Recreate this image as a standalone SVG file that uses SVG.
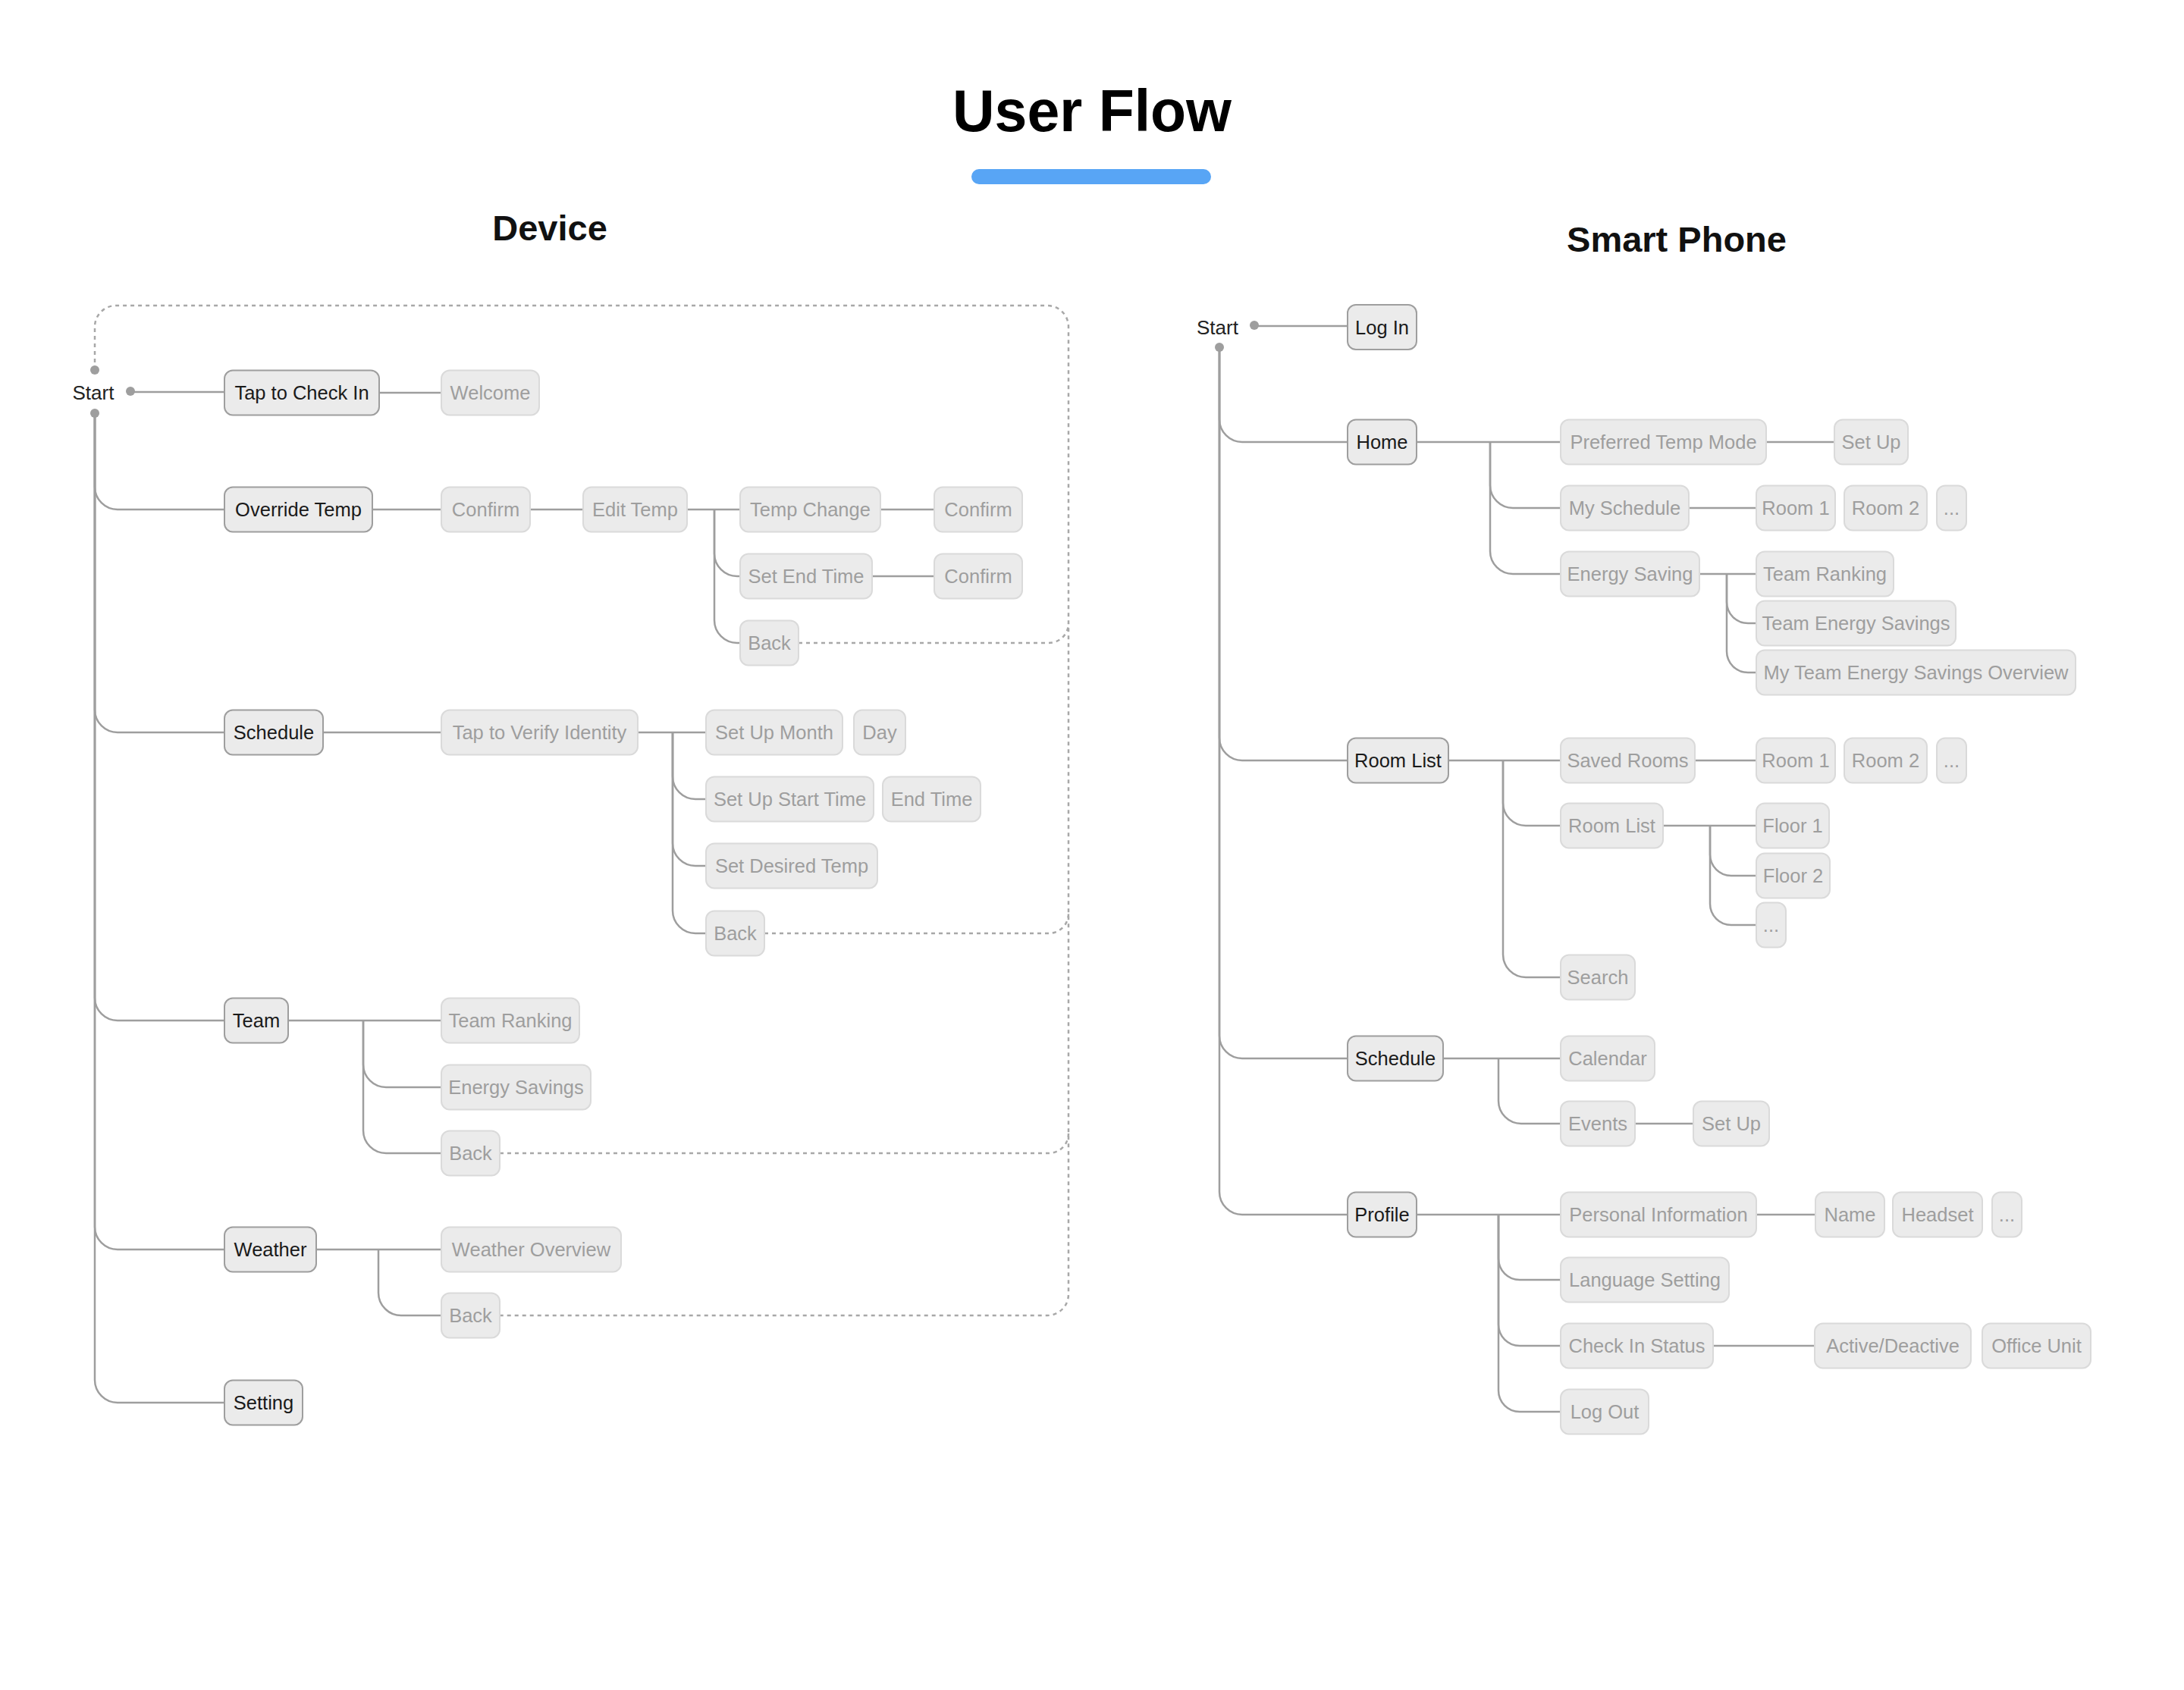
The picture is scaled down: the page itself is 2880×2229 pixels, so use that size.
<svg xmlns="http://www.w3.org/2000/svg" width="2880" height="2229" viewBox="0 0 2880 2229">
<style>
text{font-family:"Liberation Sans",Arial,sans-serif;}
.t{font-size:25.5px;text-anchor:middle;}
.main rect{fill:#ebebeb;stroke:#9e9e9e;stroke-width:2;}
.main text{fill:#1a1a1a;}
.sub rect{fill:#ebebeb;stroke:#dadada;stroke-width:2;}
.sub text{fill:#9e9e9e;}
.ln{fill:none;stroke:#9e9e9e;stroke-width:2.5;}
.dash{fill:none;stroke:#a8a8a8;stroke-width:2.5;stroke-dasharray:5 5;}
.dot{fill:#9e9e9e;}
.h{font-weight:bold;fill:#111;text-anchor:middle;}
.start{font-size:26px;fill:#222;text-anchor:middle;}
</style>
<rect width="2880" height="2229" fill="#ffffff"/>
<g id="title">
<text class="h" x="1440" y="173" style="font-size:77px;fill:#000">User Flow</text>
<rect x="1281" y="223" width="316" height="20" rx="10" fill="#58a5f5"/>
</g>
<text class="h" x="725" y="317" style="font-size:47px">Device</text>
<text class="h" x="2211" y="332" style="font-size:47px">Smart Phone</text>

<g id="connectors">
<path class="dash" d="M125 488 V431 A28 28 0 0 1 153 403 H1381 A28 28 0 0 1 1409 431 V1707 A28 28 0 0 1 1381 1735 H659"/>
<path class="dash" d="M1053 848 H1383 A26 26 0 0 0 1409 822"/>
<path class="dash" d="M1008 1231 H1383 A26 26 0 0 0 1409 1205"/>
<path class="dash" d="M659 1521 H1383 A26 26 0 0 0 1409 1495"/>
<path class="ln" d="M172 517 H296"/>
<path class="ln" d="M500 518 H582"/>
<path class="ln" d="M125 545 V642 A30 30 0 0 0 155 672 H296"/>
<path class="ln" d="M125 545 V936 A30 30 0 0 0 155 966 H296"/>
<path class="ln" d="M125 545 V1316 A30 30 0 0 0 155 1346 H296"/>
<path class="ln" d="M125 545 V1618 A30 30 0 0 0 155 1648 H296"/>
<path class="ln" d="M125 545 V1820 A30 30 0 0 0 155 1850 H296"/>
<path class="ln" d="M491 672 H582"/>
<path class="ln" d="M699 672 H769"/>
<path class="ln" d="M906 672 H976"/>
<path class="ln" d="M942 672 V730 A30 30 0 0 0 972 760 H976"/>
<path class="ln" d="M942 672 V818 A30 30 0 0 0 972 848 H976"/>
<path class="ln" d="M1161 672 H1232"/>
<path class="ln" d="M1150 760 H1232"/>
<path class="ln" d="M426 966 H582"/>
<path class="ln" d="M841 966 H931"/>
<path class="ln" d="M887 966 V1024 A30 30 0 0 0 917 1054 H931"/>
<path class="ln" d="M887 966 V1112 A30 30 0 0 0 917 1142 H931"/>
<path class="ln" d="M887 966 V1201 A30 30 0 0 0 917 1231 H931"/>
<path class="ln" d="M380 1346 H582"/>
<path class="ln" d="M479 1346 V1404 A30 30 0 0 0 509 1434 H582"/>
<path class="ln" d="M479 1346 V1491 A30 30 0 0 0 509 1521 H582"/>
<path class="ln" d="M417 1648 H582"/>
<path class="ln" d="M499 1648 V1705 A30 30 0 0 0 529 1735 H582"/>
<circle class="dot" cx="172" cy="516" r="6"/>
<circle class="dot" cx="125" cy="488" r="6"/>
<circle class="dot" cx="125" cy="545" r="6"/>
<path class="ln" d="M1654 430 H1777"/>
<path class="ln" d="M1608 458 V553 A30 30 0 0 0 1638 583 H1777"/>
<path class="ln" d="M1608 458 V973 A30 30 0 0 0 1638 1003 H1777"/>
<path class="ln" d="M1608 458 V1366 A30 30 0 0 0 1638 1396 H1777"/>
<path class="ln" d="M1608 458 V1572 A30 30 0 0 0 1638 1602 H1777"/>
<path class="ln" d="M1868 583 H2058"/>
<path class="ln" d="M1965 583 V640 A30 30 0 0 0 1995 670 H2058"/>
<path class="ln" d="M1965 583 V727 A30 30 0 0 0 1995 757 H2058"/>
<path class="ln" d="M2329 583 H2419"/>
<path class="ln" d="M2227 670 H2316"/>
<path class="ln" d="M2241 757 H2316"/>
<path class="ln" d="M2277 757 V794 A28 28 0 0 0 2305 822 H2316"/>
<path class="ln" d="M2277 757 V859 A28 28 0 0 0 2305 887 H2316"/>
<path class="ln" d="M1910 1003 H2058"/>
<path class="ln" d="M1982 1003 V1059 A30 30 0 0 0 2012 1089 H2058"/>
<path class="ln" d="M1982 1003 V1259 A30 30 0 0 0 2012 1289 H2058"/>
<path class="ln" d="M2235 1003 H2316"/>
<path class="ln" d="M2193 1089 H2316"/>
<path class="ln" d="M2255 1089 V1127 A28 28 0 0 0 2283 1155 H2316"/>
<path class="ln" d="M2255 1089 V1192 A28 28 0 0 0 2283 1220 H2316"/>
<path class="ln" d="M1903 1396 H2058"/>
<path class="ln" d="M1976 1396 V1452 A30 30 0 0 0 2006 1482 H2058"/>
<path class="ln" d="M2156 1482 H2233"/>
<path class="ln" d="M1868 1602 H2058"/>
<path class="ln" d="M1976 1602 V1660 A28 28 0 0 0 2004 1688 H2058"/>
<path class="ln" d="M1976 1602 V1747 A28 28 0 0 0 2004 1775 H2058"/>
<path class="ln" d="M1976 1602 V1834 A28 28 0 0 0 2004 1862 H2058"/>
<path class="ln" d="M2316 1602 H2394"/>
<path class="ln" d="M2259 1775 H2393"/>
<circle class="dot" cx="1654" cy="429" r="6"/>
<circle class="dot" cx="1608" cy="458" r="6"/>
</g>

<g id="d-start"><text class="start" x="123" y="527">Start</text></g>
<g id="d-tap" class="main"><rect x="296" y="488.5" width="204" height="59" rx="11"/><text class="t" x="398" y="527">Tap to Check In</text></g>
<g id="d-welcome" class="sub"><rect x="582" y="488.5" width="129" height="59" rx="11"/><text class="t" x="646.5" y="527">Welcome</text></g>
<g id="d-override" class="main"><rect x="296" y="642.5" width="195" height="59" rx="11"/><text class="t" x="393.5" y="681">Override Temp</text></g>
<g id="d-confirm1" class="sub"><rect x="582" y="642.5" width="117" height="59" rx="11"/><text class="t" x="640.5" y="681">Confirm</text></g>
<g id="d-edittemp" class="sub"><rect x="769" y="642.5" width="137" height="59" rx="11"/><text class="t" x="837.5" y="681">Edit Temp</text></g>
<g id="d-tempchange" class="sub"><rect x="976" y="642.5" width="185" height="59" rx="11"/><text class="t" x="1068.5" y="681">Temp Change</text></g>
<g id="d-confirm2" class="sub"><rect x="1232" y="642.5" width="116" height="59" rx="11"/><text class="t" x="1290" y="681">Confirm</text></g>
<g id="d-setendtime" class="sub"><rect x="976" y="730.5" width="174" height="59" rx="11"/><text class="t" x="1063" y="769">Set End Time</text></g>
<g id="d-confirm3" class="sub"><rect x="1232" y="730.5" width="116" height="59" rx="11"/><text class="t" x="1290" y="769">Confirm</text></g>
<g id="d-back1" class="sub"><rect x="976" y="818.5" width="77" height="59" rx="11"/><text class="t" x="1014.5" y="857">Back</text></g>
<g id="d-schedule" class="main"><rect x="296" y="936.5" width="130" height="59" rx="11"/><text class="t" x="361" y="975">Schedule</text></g>
<g id="d-verify" class="sub"><rect x="582" y="936.5" width="259" height="59" rx="11"/><text class="t" x="711.5" y="975">Tap to Verify Identity</text></g>
<g id="d-setupmonth" class="sub"><rect x="931" y="936.5" width="180" height="59" rx="11"/><text class="t" x="1021" y="975">Set Up Month</text></g>
<g id="d-day" class="sub"><rect x="1126" y="936.5" width="68" height="59" rx="11"/><text class="t" x="1160" y="975">Day</text></g>
<g id="d-setupstart" class="sub"><rect x="931" y="1024.5" width="221" height="59" rx="11"/><text class="t" x="1041.5" y="1063">Set Up Start Time</text></g>
<g id="d-endtime" class="sub"><rect x="1164" y="1024.5" width="129" height="59" rx="11"/><text class="t" x="1228.5" y="1063">End Time</text></g>
<g id="d-setdesired" class="sub"><rect x="931" y="1112.5" width="226" height="59" rx="11"/><text class="t" x="1044" y="1151">Set Desired Temp</text></g>
<g id="d-back2" class="sub"><rect x="931" y="1201.5" width="77" height="59" rx="11"/><text class="t" x="969.5" y="1240">Back</text></g>
<g id="d-team" class="main"><rect x="296" y="1316.5" width="84" height="59" rx="11"/><text class="t" x="338" y="1355">Team</text></g>
<g id="d-teamranking" class="sub"><rect x="582" y="1316.5" width="182" height="59" rx="11"/><text class="t" x="673" y="1355">Team Ranking</text></g>
<g id="d-energysavings" class="sub"><rect x="582" y="1404.5" width="197" height="59" rx="11"/><text class="t" x="680.5" y="1443">Energy Savings</text></g>
<g id="d-back3" class="sub"><rect x="582" y="1491.5" width="77" height="59" rx="11"/><text class="t" x="620.5" y="1530">Back</text></g>
<g id="d-weather" class="main"><rect x="296" y="1618.5" width="121" height="59" rx="11"/><text class="t" x="356.5" y="1657">Weather</text></g>
<g id="d-weatheroverview" class="sub"><rect x="582" y="1618.5" width="237" height="59" rx="11"/><text class="t" x="700.5" y="1657">Weather Overview</text></g>
<g id="d-back4" class="sub"><rect x="582" y="1705.5" width="77" height="59" rx="11"/><text class="t" x="620.5" y="1744">Back</text></g>
<g id="d-setting" class="main"><rect x="296" y="1820.5" width="103" height="59" rx="11"/><text class="t" x="347.5" y="1859">Setting</text></g>

<g id="p-start"><text class="start" x="1605.5" y="441">Start</text></g>
<g id="p-login" class="main"><rect x="1777" y="402" width="91" height="59" rx="11"/><text class="t" x="1822.5" y="440.5">Log In</text></g>
<g id="p-home" class="main"><rect x="1777" y="553.5" width="91" height="59" rx="11"/><text class="t" x="1822.5" y="592">Home</text></g>
<g id="p-preferred" class="sub"><rect x="2058" y="553.5" width="271" height="59" rx="11"/><text class="t" x="2193.5" y="592">Preferred Temp Mode</text></g>
<g id="p-setup1" class="sub"><rect x="2419" y="553.5" width="97" height="59" rx="11"/><text class="t" x="2467.5" y="592">Set Up</text></g>
<g id="p-myschedule" class="sub"><rect x="2058" y="640.5" width="169" height="59" rx="11"/><text class="t" x="2142.5" y="679">My Schedule</text></g>
<g id="p-room1a" class="sub"><rect x="2316" y="640.5" width="104" height="59" rx="11"/><text class="t" x="2368" y="679">Room 1</text></g>
<g id="p-room2a" class="sub"><rect x="2432" y="640.5" width="109" height="59" rx="11"/><text class="t" x="2486.5" y="679">Room 2</text></g>
<g id="p-dotsa" class="sub"><rect x="2554" y="640.5" width="39" height="59" rx="11"/><text class="t" x="2573.5" y="679">...</text></g>
<g id="p-energysaving" class="sub"><rect x="2058" y="727.5" width="183" height="59" rx="11"/><text class="t" x="2149.5" y="766">Energy Saving</text></g>
<g id="p-teamranking" class="sub"><rect x="2316" y="727.5" width="181" height="59" rx="11"/><text class="t" x="2406.5" y="766">Team Ranking</text></g>
<g id="p-teamenergy" class="sub"><rect x="2316" y="792.5" width="263" height="59" rx="11"/><text class="t" x="2447.5" y="831">Team Energy Savings</text></g>
<g id="p-myteam" class="sub"><rect x="2316" y="857.5" width="421" height="59" rx="11"/><text class="t" x="2526.5" y="896">My Team Energy Savings Overview</text></g>
<g id="p-roomlist" class="main"><rect x="1777" y="973.5" width="133" height="59" rx="11"/><text class="t" x="1843.5" y="1012">Room List</text></g>
<g id="p-savedrooms" class="sub"><rect x="2058" y="973.5" width="177" height="59" rx="11"/><text class="t" x="2146.5" y="1012">Saved Rooms</text></g>
<g id="p-room1b" class="sub"><rect x="2316" y="973.5" width="104" height="59" rx="11"/><text class="t" x="2368" y="1012">Room 1</text></g>
<g id="p-room2b" class="sub"><rect x="2432" y="973.5" width="109" height="59" rx="11"/><text class="t" x="2486.5" y="1012">Room 2</text></g>
<g id="p-dotsb" class="sub"><rect x="2554" y="973.5" width="39" height="59" rx="11"/><text class="t" x="2573.5" y="1012">...</text></g>
<g id="p-roomlist2" class="sub"><rect x="2058" y="1059.5" width="135" height="59" rx="11"/><text class="t" x="2125.5" y="1098">Room List</text></g>
<g id="p-floor1" class="sub"><rect x="2316" y="1059.5" width="96" height="59" rx="11"/><text class="t" x="2364" y="1098">Floor 1</text></g>
<g id="p-floor2" class="sub"><rect x="2316" y="1125.5" width="97" height="59" rx="11"/><text class="t" x="2364.5" y="1164">Floor 2</text></g>
<g id="p-dotsc" class="sub"><rect x="2316" y="1190.5" width="39" height="59" rx="11"/><text class="t" x="2335.5" y="1229">...</text></g>
<g id="p-search" class="sub"><rect x="2058" y="1259.5" width="98" height="59" rx="11"/><text class="t" x="2107" y="1298">Search</text></g>
<g id="p-schedule" class="main"><rect x="1777" y="1366.5" width="126" height="59" rx="11"/><text class="t" x="1840" y="1405">Schedule</text></g>
<g id="p-calendar" class="sub"><rect x="2058" y="1366.5" width="124" height="59" rx="11"/><text class="t" x="2120" y="1405">Calendar</text></g>
<g id="p-events" class="sub"><rect x="2058" y="1452.5" width="98" height="59" rx="11"/><text class="t" x="2107" y="1491">Events</text></g>
<g id="p-setup2" class="sub"><rect x="2233" y="1452.5" width="100" height="59" rx="11"/><text class="t" x="2283" y="1491">Set Up</text></g>
<g id="p-profile" class="main"><rect x="1777" y="1572.5" width="91" height="59" rx="11"/><text class="t" x="1822.5" y="1611">Profile</text></g>
<g id="p-personal" class="sub"><rect x="2058" y="1572.5" width="258" height="59" rx="11"/><text class="t" x="2187" y="1611">Personal Information</text></g>
<g id="p-name" class="sub"><rect x="2394" y="1572.5" width="91" height="59" rx="11"/><text class="t" x="2439.5" y="1611">Name</text></g>
<g id="p-headset" class="sub"><rect x="2496" y="1572.5" width="118" height="59" rx="11"/><text class="t" x="2555" y="1611">Headset</text></g>
<g id="p-dotsd" class="sub"><rect x="2627" y="1572.5" width="39" height="59" rx="11"/><text class="t" x="2646.5" y="1611">...</text></g>
<g id="p-language" class="sub"><rect x="2058" y="1658.5" width="222" height="59" rx="11"/><text class="t" x="2169" y="1697">Language Setting</text></g>
<g id="p-checkin" class="sub"><rect x="2058" y="1745.5" width="201" height="59" rx="11"/><text class="t" x="2158.5" y="1784">Check In Status</text></g>
<g id="p-active" class="sub"><rect x="2393" y="1745.5" width="206" height="59" rx="11"/><text class="t" x="2496" y="1784">Active/Deactive</text></g>
<g id="p-office" class="sub"><rect x="2614" y="1745.5" width="143" height="59" rx="11"/><text class="t" x="2685.5" y="1784">Office Unit</text></g>
<g id="p-logout" class="sub"><rect x="2058" y="1832.5" width="116" height="59" rx="11"/><text class="t" x="2116" y="1871">Log Out</text></g>
</svg>
